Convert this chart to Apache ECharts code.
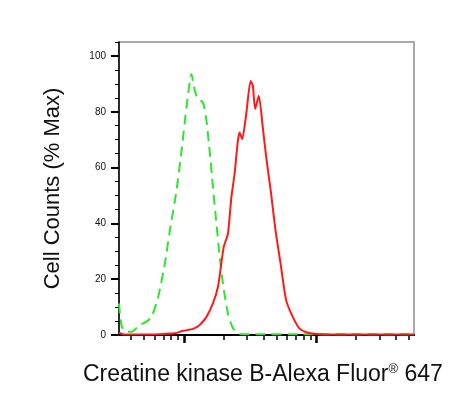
<!DOCTYPE html>
<html>
<head>
<meta charset="utf-8">
<script src="https://cdn.jsdelivr.net/npm/echarts@6/dist/echarts.min.js"></script>
<style>
  html, body { margin: 0; padding: 0; background: #fff; }
  #chart { width: 457px; height: 403px; }
</style>
</head>
<body>
<div id="chart"></div>
<script>
// x in decades (log10 of fluorescence), y in % of max
var isotypeX = [0.511, 0.532, 0.569, 0.607, 0.669, 0.720, 0.757, 0.807, 0.857, 0.895, 0.945, 0.983, 1.020, 1.058, 1.083, 1.108, 1.145, 1.171, 1.195, 1.220, 1.246, 1.271, 1.295, 1.333, 1.371, 1.421, 1.571, 1.872, 2.248, 2.737];
var isotypeY = [11.3, 3, 1.2, 1.2, 3.6, 4.8, 6.5, 13.7, 25.6, 37.5, 51.8, 66, 81.5, 93.5, 87.5, 84.5, 83.3, 76.8, 66, 53, 40, 28, 18.5, 7.7, 2.4, 0.4, 0.3, 0.3, 0.3, 0.3];

var sampleX = [0.511, 0.549, 0.744, 0.857, 0.932, 0.995, 1.070, 1.120, 1.171, 1.220, 1.258, 1.283, 1.301, 1.333, 1.359, 1.383, 1.408, 1.421, 1.441, 1.471, 1.504, 1.521, 1.538, 1.566, 1.596, 1.622, 1.659, 1.692, 1.729, 1.772, 1.822, 1.872, 1.923, 1.998, 2.173, 2.737];
var sampleY = [0.8, 0.2, 0.2, 0.4, 0.6, 1.5, 2.2, 3.6, 6.5, 11.3, 17.3, 25.6, 31.5, 36.3, 49.4, 57.7, 69.6, 72.6, 70.2, 79.2, 91, 89.3, 81, 85.7, 74.4, 63.7, 50.6, 37.5, 26, 12.5, 6.5, 2.4, 1, 0.4, 0.2, 0.2];

var xMajorTicks = [10, 100];
var xMinorTicks = [4, 5, 6, 7, 8, 9, 20, 30, 40, 50, 60, 70, 80, 90, 200, 300, 400, 500];
var yMajorTicks = [0, 20, 40, 60, 80, 100];
var yMinorTicks = [5, 10, 15, 25, 30, 35, 45, 50, 55, 65, 70, 75, 85, 90, 95, 105];

function pairs(xs, ys) {
  var out = [];
  for (var i = 0; i < xs.length; i++) out.push([xs[i], ys[i]]);
  return out;
}

var chart = echarts.init(document.getElementById('chart'));
var font = '"Liberation Sans", Arial, sans-serif';
var xMin = 0.511, xMax = 2.737;

var option = {
  animation: false,
  textStyle: { fontFamily: font },
  title: {
    text: 'Creatine kinase B-Alexa Fluor{sup|®} 647',
    left: 78,
    top: 358,
    textStyle: {
      fontFamily: font,
      fontSize: 23,
      fontWeight: 'normal',
      color: '#111',
      rich: {
        sup: { fontSize: 13, verticalAlign: 'top', lineHeight: 14, fontFamily: font, color: '#111' }
      }
    }
  },
  grid: {
    left: 119, right: 43, top: 42, bottom: 68,
    show: true, borderColor: '#aaa', borderWidth: 2
  },
  xAxis: [
    {
      type: 'value', min: xMin, max: xMax, position: 'bottom',
      axisLine: { show: true, lineStyle: { color: '#000', width: 2 } },
      axisTick: { show: true, length: 5, lineStyle: { color: '#000', width: 1.5 },
        customValues: xMinorTicks.map(Math.log10) },
      axisLabel: { show: false },
      splitLine: { show: false }
    },
    {
      type: 'value', min: xMin, max: xMax, position: 'bottom',
      axisLine: { show: false },
      axisTick: { show: true, length: 8, lineStyle: { color: '#000', width: 2.5 },
        customValues: xMajorTicks.map(Math.log10) },
      axisLabel: { show: false },
      splitLine: { show: false }
    }
  ],
  yAxis: [
    {
      type: 'value', min: 0, max: 105,
      name: 'Cell Counts (% Max)',
      nameLocation: 'middle', nameRotate: 90, nameGap: 55,
      nameTextStyle: { fontFamily: font, fontSize: 22, color: '#111' },
      axisLine: { show: true, lineStyle: { color: '#000', width: 1.5 } },
      axisTick: { show: true, length: 8, lineStyle: { color: '#000', width: 2 },
        customValues: yMajorTicks },
      axisLabel: { show: true, margin: 13, fontSize: 10, color: '#111', fontFamily: font,
        customValues: yMajorTicks },
      splitLine: { show: false }
    },
    {
      type: 'value', min: 0, max: 105, position: 'left',
      axisLine: { show: false },
      axisTick: { show: true, length: 4, lineStyle: { color: '#000', width: 1 },
        customValues: yMinorTicks },
      axisLabel: { show: false },
      splitLine: { show: false }
    }
  ],
  series: [
    {
      type: 'line', name: 'Isotype',
      data: pairs(isotypeX, isotypeY),
      showSymbol: false, smooth: 0.2,
      lineStyle: { color: '#2ee62e', width: 2, type: [10, 6] },
      z: 3
    },
    {
      type: 'line', name: 'Creatine kinase B',
      data: pairs(sampleX, sampleY),
      showSymbol: false, smooth: 0.2,
      lineStyle: { color: '#ff1a1a', width: 2 },
      z: 4
    }
  ]
};
chart.setOption(option);
</script>
</body>
</html>
